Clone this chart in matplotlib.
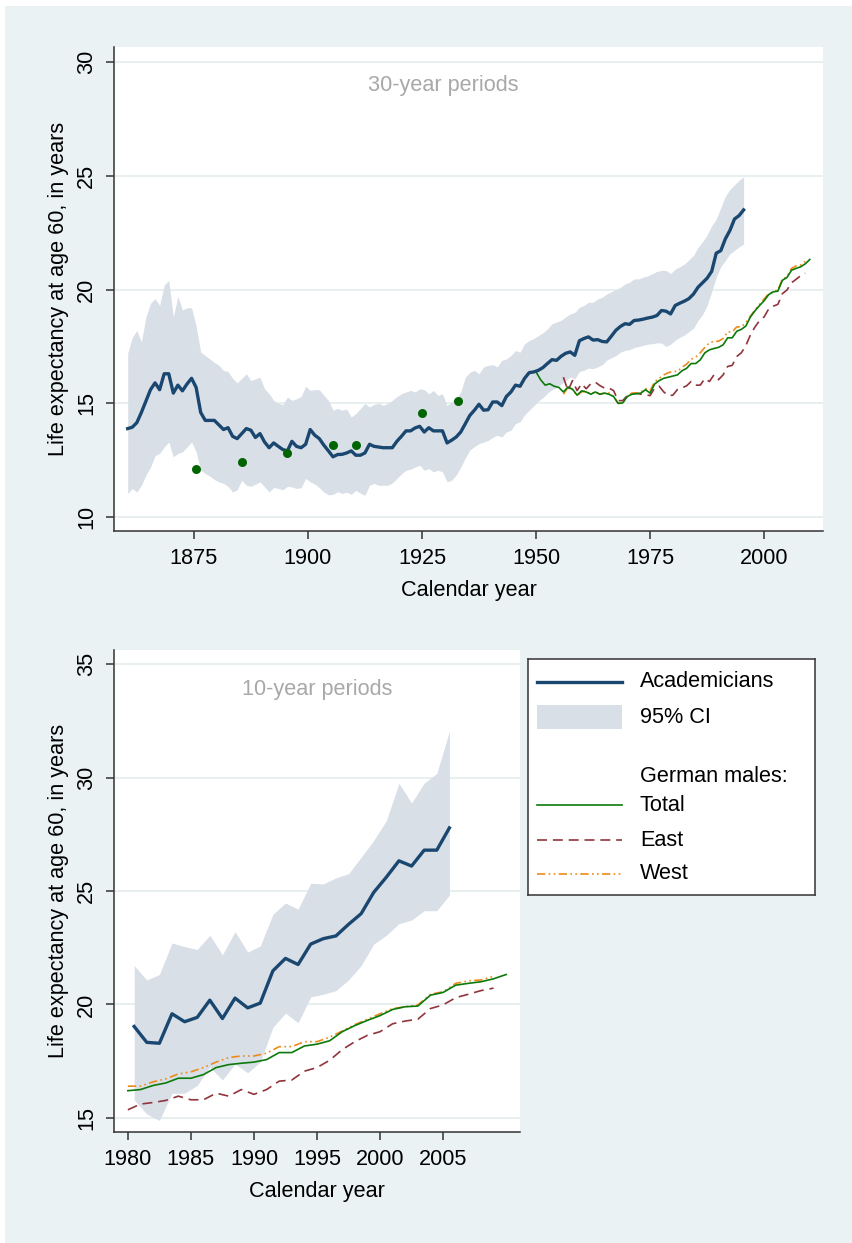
import matplotlib
matplotlib.use("Agg")
import matplotlib.pyplot as plt
import numpy as np
from matplotlib.patches import Rectangle
from matplotlib.lines import Line2D

plt.rcParams['font.family'] = ['Liberation Sans', 'DejaVu Sans']

# ---- Academicians, 30-year periods (annual, 1860-1995, plotted at mid-year)
acad30_years = np.arange(1860, 1996) + 0.5
acad30_mean = [
    13.89, 13.95, 14.15, 14.6, 15.1, 15.6, 15.9, 15.6, 16.3, 16.3,
    15.45, 15.8, 15.55, 15.85, 16.1, 15.7, 14.6, 14.25, 14.25, 14.25,
    14.05, 13.85, 13.93, 13.55, 13.45, 13.67, 13.89, 13.82, 13.5, 13.67,
    13.3, 13.05, 13.26, 13.11, 12.97, 12.91, 13.33, 13.11, 13.05, 13.2,
    13.85, 13.6, 13.45, 13.16, 12.91, 12.65, 12.75, 12.76, 12.82, 12.91,
    12.72, 12.72, 12.82, 13.2, 13.11, 13.08, 13.05, 13.05, 13.05, 13.33,
    13.55, 13.79, 13.79, 13.92, 13.99, 13.74, 13.93, 13.79, 13.79, 13.79,
    13.26, 13.38, 13.52, 13.74, 14.1, 14.47, 14.7, 14.96, 14.7, 14.72,
    15.06, 15.06, 14.9, 15.3, 15.5, 15.8, 15.75, 16.1, 16.35, 16.38,
    16.45, 16.57, 16.75, 16.92, 16.89, 17.07, 17.2, 17.26, 17.11, 17.75,
    17.85, 17.92, 17.78, 17.8, 17.72, 17.7, 17.95, 18.21, 18.38, 18.5,
    18.47, 18.64, 18.66, 18.7, 18.75, 18.79, 18.86, 19.08, 19.05, 18.93,
    19.3, 19.4, 19.49, 19.6, 19.8, 20.1, 20.3, 20.5, 20.8, 21.6,
    21.71, 22.23, 22.6, 23.1, 23.25, 23.5,
]
acad30_upper = [
    17.2, 17.9, 18.2, 17.7, 18.8, 19.4, 19.6, 19.3, 20.2, 20.4,
    18.8, 19.7, 19.1, 19.2, 19.2, 18.4, 17.25, 17.1, 16.95, 16.8,
    16.67, 16.45, 16.4, 16.1, 15.9, 16.1, 16.3, 16.0, 16.08, 16.15,
    15.64, 15.42, 15.13, 15.0, 14.95, 15.28, 15.13, 15.2, 15.3, 15.75,
    15.57, 15.6, 15.6, 15.35, 15.13, 14.7, 14.77, 14.7, 14.75, 14.4,
    14.55, 14.77, 15.0, 14.84, 14.95, 15.0, 14.91, 15.0, 15.13, 15.3,
    15.42, 15.5, 15.57, 15.5, 15.64, 15.6, 15.42, 15.57, 15.35, 15.42,
    14.91, 15.06, 15.2, 15.5, 16.15, 16.37, 16.45, 16.3, 16.6, 16.67,
    16.7, 16.6, 16.89, 16.95, 17.1, 17.32, 17.25, 17.62, 17.76, 17.85,
    17.98, 18.1, 18.27, 18.5, 18.57, 18.65, 18.8, 18.93, 19.0, 19.22,
    19.3, 19.44, 19.44, 19.59, 19.66, 19.8, 19.9, 20.0, 20.1, 20.25,
    20.32, 20.47, 20.47, 20.55, 20.6, 20.7, 20.8, 20.84, 20.84, 20.7,
    20.9, 21.0, 21.12, 21.3, 21.5, 21.85, 22.1, 22.4, 22.8, 23.1,
    23.6, 24.1, 24.4, 24.6, 24.8, 24.95,
]
acad30_lower = [
    11.04, 11.26, 11.1, 11.4, 11.84, 12.2, 12.7, 12.8, 13.08, 13.3,
    12.65, 12.8, 12.87, 13.08, 13.3, 12.87, 12.06, 11.92, 11.8, 11.65,
    11.55, 11.48, 11.35, 11.1, 11.2, 11.62, 11.4, 11.35, 11.45, 11.55,
    11.33, 11.11, 11.3, 11.26, 11.2, 11.35, 11.33, 11.26, 11.3, 11.7,
    11.55, 11.45, 11.3, 11.1, 10.98, 11.0, 11.11, 11.04, 11.1, 11.0,
    11.18, 11.05, 10.96, 11.4, 11.48, 11.4, 11.4, 11.4, 11.5, 11.7,
    11.9, 12.06, 12.1, 12.2, 12.28, 12.06, 12.13, 11.99, 12.06, 11.99,
    11.55, 11.62, 11.85, 12.2, 12.6, 12.95, 13.1, 13.23, 13.3, 13.37,
    13.5, 13.6, 13.52, 13.74, 13.82, 14.11, 14.19, 14.5, 14.7, 14.9,
    15.1, 15.25, 15.45, 15.6, 15.7, 15.85, 16.0, 16.16, 16.08, 16.4,
    16.45, 16.55, 16.52, 16.6, 16.7, 16.9, 17.0, 17.1, 17.25, 17.33,
    17.36, 17.45, 17.5, 17.55, 17.6, 17.62, 17.66, 17.65, 17.5, 17.6,
    17.77, 17.9, 18.0, 18.15, 18.3, 18.64, 18.9, 19.3, 19.9, 20.55,
    21.0, 21.28, 21.57, 21.72, 21.87, 22.0,
]

# ---- historical German life tables (green dots)
hist_years = [1875.5, 1885.5, 1895.5, 1905.5, 1910.5, 1925, 1933]
hist_values = [12.12, 12.43, 12.81, 13.15, 13.18, 14.59, 15.09]

# ---- German males, annual
total_years = np.arange(1950, 2011)
total_values = [
    16.38, 16.04, 15.8, 15.86, 15.75, 15.7, 15.5, 15.72, 15.62, 15.36,
    15.55, 15.5, 15.4, 15.5, 15.4, 15.45, 15.4, 15.3, 15.0, 15.02,
    15.3, 15.4, 15.42, 15.45, 15.6, 15.45, 15.85, 16.0, 16.1, 16.15,
    16.2, 16.25, 16.43, 16.54, 16.75, 16.75, 16.91, 17.22, 17.35, 17.41,
    17.46, 17.57, 17.88, 17.88, 18.17, 18.25, 18.4, 18.8, 19.07, 19.3,
    19.51, 19.78, 19.9, 19.93, 20.41, 20.53, 20.85, 20.93, 21.0, 21.13,
    21.32,
]
east_years = np.arange(1956, 2010)
east_values = [
    16.15, 15.56, 16.0, 15.56,
    15.86, 15.64, 15.86, 15.93, 15.78, 15.67, 15.67, 15.56, 15.12, 15.12,
    15.34, 15.42, 15.45, 15.4, 15.38, 15.34, 15.67, 15.75, 15.5, 15.34,
    15.36, 15.61, 15.68, 15.77, 15.96, 15.8, 15.8, 16.09, 15.96, 16.25,
    16.04, 16.25, 16.62, 16.67, 17.06, 17.22, 17.54, 18.01, 18.36, 18.64,
    18.8, 19.15, 19.27, 19.35, 19.82, 19.98, 20.3, 20.45, 20.61, 20.72,
]
west_years = np.arange(1956, 2010)
west_values = [
    15.4, 15.7, 15.6, 15.35,
    15.5, 15.55, 15.4, 15.5, 15.4, 15.45, 15.45, 15.3, 15.0, 15.0,
    15.3, 15.45, 15.45, 15.5, 15.65, 15.55, 15.95, 16.1, 16.25, 16.35,
    16.4, 16.4, 16.59, 16.72, 16.94, 17.03, 17.22, 17.46, 17.66, 17.73,
    17.73, 17.85, 18.14, 18.14, 18.36, 18.36, 18.56, 18.83, 19.11, 19.35,
    19.59, 19.82, 19.9, 19.98, 20.45, 20.56, 20.93, 21.04, 21.08, 21.24,
]

# ---- Academicians, 10-year periods (1980-2005, mid-year)
acad10_years = np.arange(1980, 2006) + 0.5
acad10_mean = [19.03, 18.33, 18.29, 19.59, 19.24, 19.43, 20.19, 19.38, 20.28, 19.85,
               20.06, 21.48, 22.03, 21.76, 22.66, 22.9, 23.02, 23.53, 24.0, 24.94,
               25.61, 26.33, 26.1, 26.8, 26.8, 27.78]
acad10_upper = [21.71, 21.08, 21.32, 22.71, 22.55, 22.42, 23.05, 22.19, 23.21, 22.31,
                22.58, 23.97, 24.47, 24.2, 25.34, 25.31, 25.58, 25.76, 26.49, 27.23,
                28.1, 29.75, 28.88, 29.75, 30.18, 32.04]
acad10_lower = [15.8, 15.17, 14.89, 16.09, 16.09, 16.43, 17.25, 16.67, 17.38, 16.99,
                17.46, 18.99, 19.62, 19.19, 20.33, 20.45, 20.61, 21.08, 21.71, 22.66,
                23.05, 23.56, 23.72, 24.13, 24.13, 24.82]

NAVY = '#1a476f'
CI = '#d9dfe7'
GREEN = '#0b7a0b'
DOT = '#006400'
MAROON = '#90353b'
ORANGE = '#ee8a1c'
BG = '#eaf2f3'
GRID = '#e4ecef'
FS = 15.6

fig = plt.figure(figsize=(8.52, 12.43), dpi=100, facecolor=BG)
# white strips at the top/left edge of the scan
fig.patches.append(Rectangle((0, 1 - 6 / 1243), 1, 6 / 1243, transform=fig.transFigure,
                             facecolor='white', edgecolor='none', zorder=0))
fig.patches.append(Rectangle((0, 0), 5 / 852, 1, transform=fig.transFigure,
                             facecolor='white', edgecolor='none', zorder=0))


def style(ax, yticks, xticks, xlim, ylim):
    ax.set_facecolor('white')
    for s in ['top', 'right']:
        ax.spines[s].set_visible(False)
    for s in ['left', 'bottom']:
        ax.spines[s].set_color('#333333')
        ax.spines[s].set_linewidth(1.1)
    ax.set_xlim(*xlim)
    ax.set_ylim(*ylim)
    ax.set_yticks(yticks)
    ax.set_xticks(xticks)
    for y in yticks:
        ax.axhline(y, color=GRID, lw=1.2, zorder=0)
    ax.tick_params(axis='both', length=6, width=1.1, color='#333333', labelsize=FS, pad=6)
    for lab in ax.get_yticklabels():
        lab.set_rotation(90)
        lab.set_va('center')
    ax.set_ylabel('Life expectancy at age 60, in years', fontsize=FS, labelpad=5)
    ax.set_xlabel('Calendar year', fontsize=FS, labelpad=8)


def german(ax, start):
    m = total_years >= start
    ax.plot(total_years[m], np.array(total_values)[m], color=GREEN, lw=1.2, zorder=4)
    m = east_years >= start
    ax.plot(east_years[m], np.array(east_values)[m], color=MAROON, lw=1.2,
            dashes=(6, 3.5), zorder=3)
    m = west_years >= start
    ax.plot(west_years[m], np.array(west_values)[m], color=ORANGE, lw=1.2,
            dashes=(5, 2, 1, 2, 1, 2), zorder=3)


# ---- top panel
ax1 = fig.add_axes([114 / 852, 1 - 531 / 1243, 709 / 852, 484 / 1243])
style(ax1, [10, 15, 20, 25, 30], [1875, 1900, 1925, 1950, 1975, 2000],
      (1857.5, 2012.9), (9.39, 30.66))
ax1.fill_between(acad30_years, acad30_lower, acad30_upper, color=CI, lw=0, zorder=1)
ax1.plot(acad30_years, acad30_mean, color=NAVY, lw=2.4, zorder=5)
german(ax1, 1950)
ax1.scatter(hist_years, hist_values, s=42, color=DOT, zorder=6, linewidths=0)
ax1.text(0.465, 0.92, '30-year periods', transform=ax1.transAxes, ha='center',
         va='center', color='#a8a8a8', fontsize=FS)

# ---- bottom panel
ax2 = fig.add_axes([114 / 852, 1 - 1132 / 1243, 406 / 852, 482 / 1243])
style(ax2, [15, 20, 25, 30, 35], [1980, 1985, 1990, 1995, 2000, 2005],
      (1978.9, 2011.1), (14.38, 35.62))
ax2.fill_between(acad10_years, acad10_lower, acad10_upper, color=CI, lw=0, zorder=1)
ax2.plot(acad10_years, acad10_mean, color=NAVY, lw=2.4, zorder=5)
german(ax2, 1980)
ax2.text(0.5, 0.919, '10-year periods', transform=ax2.transAxes, ha='center',
         va='center', color='#a8a8a8', fontsize=FS)

# ---- legend box
lg = fig.add_axes([528 / 852, 1 - 895 / 1243, 287 / 852, 236 / 1243])
lg.set_xlim(0, 1)
lg.set_ylim(0, 1)
lg.set_xticks([])
lg.set_yticks([])
lg.set_facecolor('white')
for s in lg.spines.values():
    s.set_color('#333333')
    s.set_linewidth(1.1)
kx = (0.031, 0.328)
tx = 0.39
lg.add_line(Line2D(kx, (0.903, 0.903), color=NAVY, lw=2.4))
lg.add_patch(Rectangle((kx[0], 0.754 - 0.049), kx[1] - kx[0], 0.098,
                       facecolor=CI, edgecolor='none'))
lg.add_line(Line2D(kx, (0.381, 0.381), color=GREEN, lw=1.2))
lg.add_line(Line2D(kx, (0.233, 0.233), color=MAROON, lw=1.2, dashes=(6, 3.5)))
lg.add_line(Line2D(kx, (0.089, 0.089), color=ORANGE, lw=1.2, dashes=(5, 2, 1, 2, 1, 2)))
for y, t in [(0.903, 'Academicians'), (0.754, '95% CI'), (0.504, 'German males:'),
             (0.381, 'Total'), (0.233, 'East'), (0.089, 'West')]:
    lg.text(tx, y, t, ha='left', va='center', fontsize=FS, color='black')

fig.savefig('out.png', dpi=100, facecolor=BG)
